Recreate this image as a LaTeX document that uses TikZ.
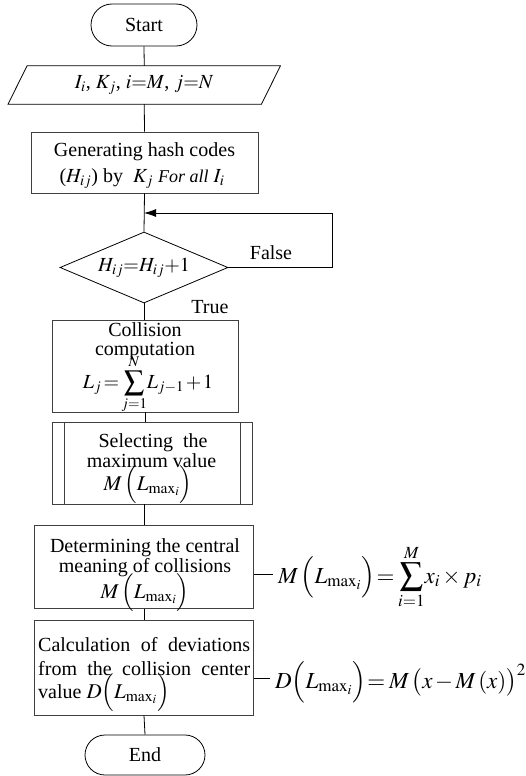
\documentclass[tikz,border=0pt]{standalone}
\usepackage{mathptmx}
\usepackage{fontspec}
\setmainfont{Liberation Serif}
\usetikzlibrary{arrows.meta,shapes.geometric,shapes.misc}
\begin{document}
\begin{tikzpicture}[x=1pt,y=-1pt,
  every node/.style={inner sep=0pt, font=\fontsize{20}{20}\selectfont},
  ln/.style={line width=0.8pt},
  bx/.style={draw=black!75, line width=0.9pt, rectangle},
  term/.style={draw, line width=0.8pt, rounded rectangle},
  txt/.style={anchor=base},
  mth/.style={anchor=base, font=\fontsize{21}{21}\selectfont},
  rf/.style={anchor=base west, inner sep=5pt, font=\fontsize{23}{23}\selectfont},
]
\thickmuskip=3mu plus 1mu
\medmuskip=2mu plus 1mu
\useasboundingbox[fill=white] (0,0) rectangle (525,776);

% Start
\node[term, minimum width=106pt, minimum height=42pt] (start) at (144,25) {Start};

% Input parallelogram
\node[minimum width=253pt, minimum height=38pt] (io) at (144.25,85) {$I_i$, $K_j$, $i{=}M$, $j{=}N$};
\draw[ln] ([xshift=9.5pt]io.north west) -- ([xshift=9.5pt]io.north east)
   -- ([xshift=-9.5pt]io.south east) -- ([xshift=-9.5pt]io.south west) -- cycle;

% Generating box
\node[bx, minimum width=227pt, minimum height=61pt] (gen) at (144.5,162.5) {};
\node[txt] (gen1) at (144.5,156) {Generating hash codes};
\node[txt] (gen2) at (142,182) {($H_{ij}$) by\ \ $K_j$ {\itshape\fontsize{18}{18}\selectfont For all} $I_i$};

% Decision
\node[diamond, draw, line width=0.8pt, aspect=2.37, minimum width=168pt, minimum height=71pt] (dec) at (144,267.5) {$H_{ij}{=}H_{ij}{+}1$};
\coordinate (join) at (144,213);
\coordinate (loopc) at (332,213);
\node (false) at (271,253) {False};
\node (true) at (210,307) {True};

% Collision box
\node[bx, minimum width=186pt, minimum height=92pt] (coll) at (145,366) {};
\node[txt] (coll1) at (145,336) {Collision};
\node[txt] (coll2) at (145,355) {computation};
\node[mth, font=\fontsize{20}{20}\selectfont] (coll3) at (148,388) {\thickmuskip=2mu\medmuskip=1.5mu$\displaystyle L_j=\sum_{j=1}^{N}\!L_{j-1}+1$};

% Selecting box (predefined process)
\node[bx, minimum width=200pt, minimum height=82pt] (sel) at (152,463) {};
\draw[draw=black!75, line width=0.9pt] ([xshift=12.5pt]sel.north west) -- ([xshift=12.5pt]sel.south west);
\draw[draw=black!75, line width=0.9pt] ([xshift=-12.5pt]sel.north east) -- ([xshift=-12.5pt]sel.south east);
\node[txt] (sel1) at (153,447) {Selecting\ \ the};
\node[txt] (sel2) at (151.5,467) {maximum value};
\node[mth] (sel3) at (148,490) {$M\,\Bigl(L_{\max_i}\Bigr)$};

% Determining box
\node[bx, minimum width=219pt, minimum height=83pt] (det) at (144,567) {};
\node[txt] (det1) at (145,552) {Determining the central};
\node[txt] (det2) at (145,572) {meaning of collisions};
\node[mth] (det3) at (145,598) {$M\,\Bigl(L_{\max_i}\Bigr)$};

% Calculation box
\node[bx, minimum width=219pt, minimum height=95pt] (calc) at (144,667.5) {};
\node[anchor=base west] (calc1) at (38,651) {\makebox[212pt][s]{Calculation of deviations}};
\node[anchor=base west] (calc2) at (38,675) {\makebox[212pt][s]{from the collision center}};
\node[anchor=base west] (calc3) at (38,698) {value {\fontsize{21}{21}\selectfont$D\Bigl(L_{\max_i}\Bigr)$}};

% End
\node[term, minimum width=120pt, minimum height=40pt] (end) at (145,755) {End};

% Right formulas
\node[rf] (f1) at (273,583) {$\displaystyle M\,\Bigl(L_{\max_i}\Bigr)\!=\sum_{i=1}^{M}\!x_i\times p_i$};
\node[rf] (f2) at (270,688) {$D\Bigl(L_{\max_i}\Bigr)\!=M\,\bigl(x-M\,(x)\bigr)^{2}$};

% Connectors
\draw[ln] (start.south) -- (io.north);
\draw[ln] (io.south) -- (gen.north);
\draw[ln] (gen.south) -- (dec.north);
\draw[ln, -{Latex[length=12pt,width=8pt]}] (dec.east) -| (loopc) -- (join);
\draw[ln] (dec.south) -- (dec.south |- coll.north);
\draw[ln] (coll.south) -- (coll.south |- sel.north);
\draw[ln] (det.north |- sel.south) -- (det.north);
\draw[ln] (det.south) -- (calc.north);
\draw[ln] (calc.south) -- (end.north);
\draw[ln] ([yshift=-7pt]det.east) -- ([yshift=-7pt]det.east -| f1.west);
\draw[ln] ([yshift=-10.5pt]calc.east) -- ([yshift=-10.5pt]calc.east -| f2.west);
\end{tikzpicture}
\end{document}
